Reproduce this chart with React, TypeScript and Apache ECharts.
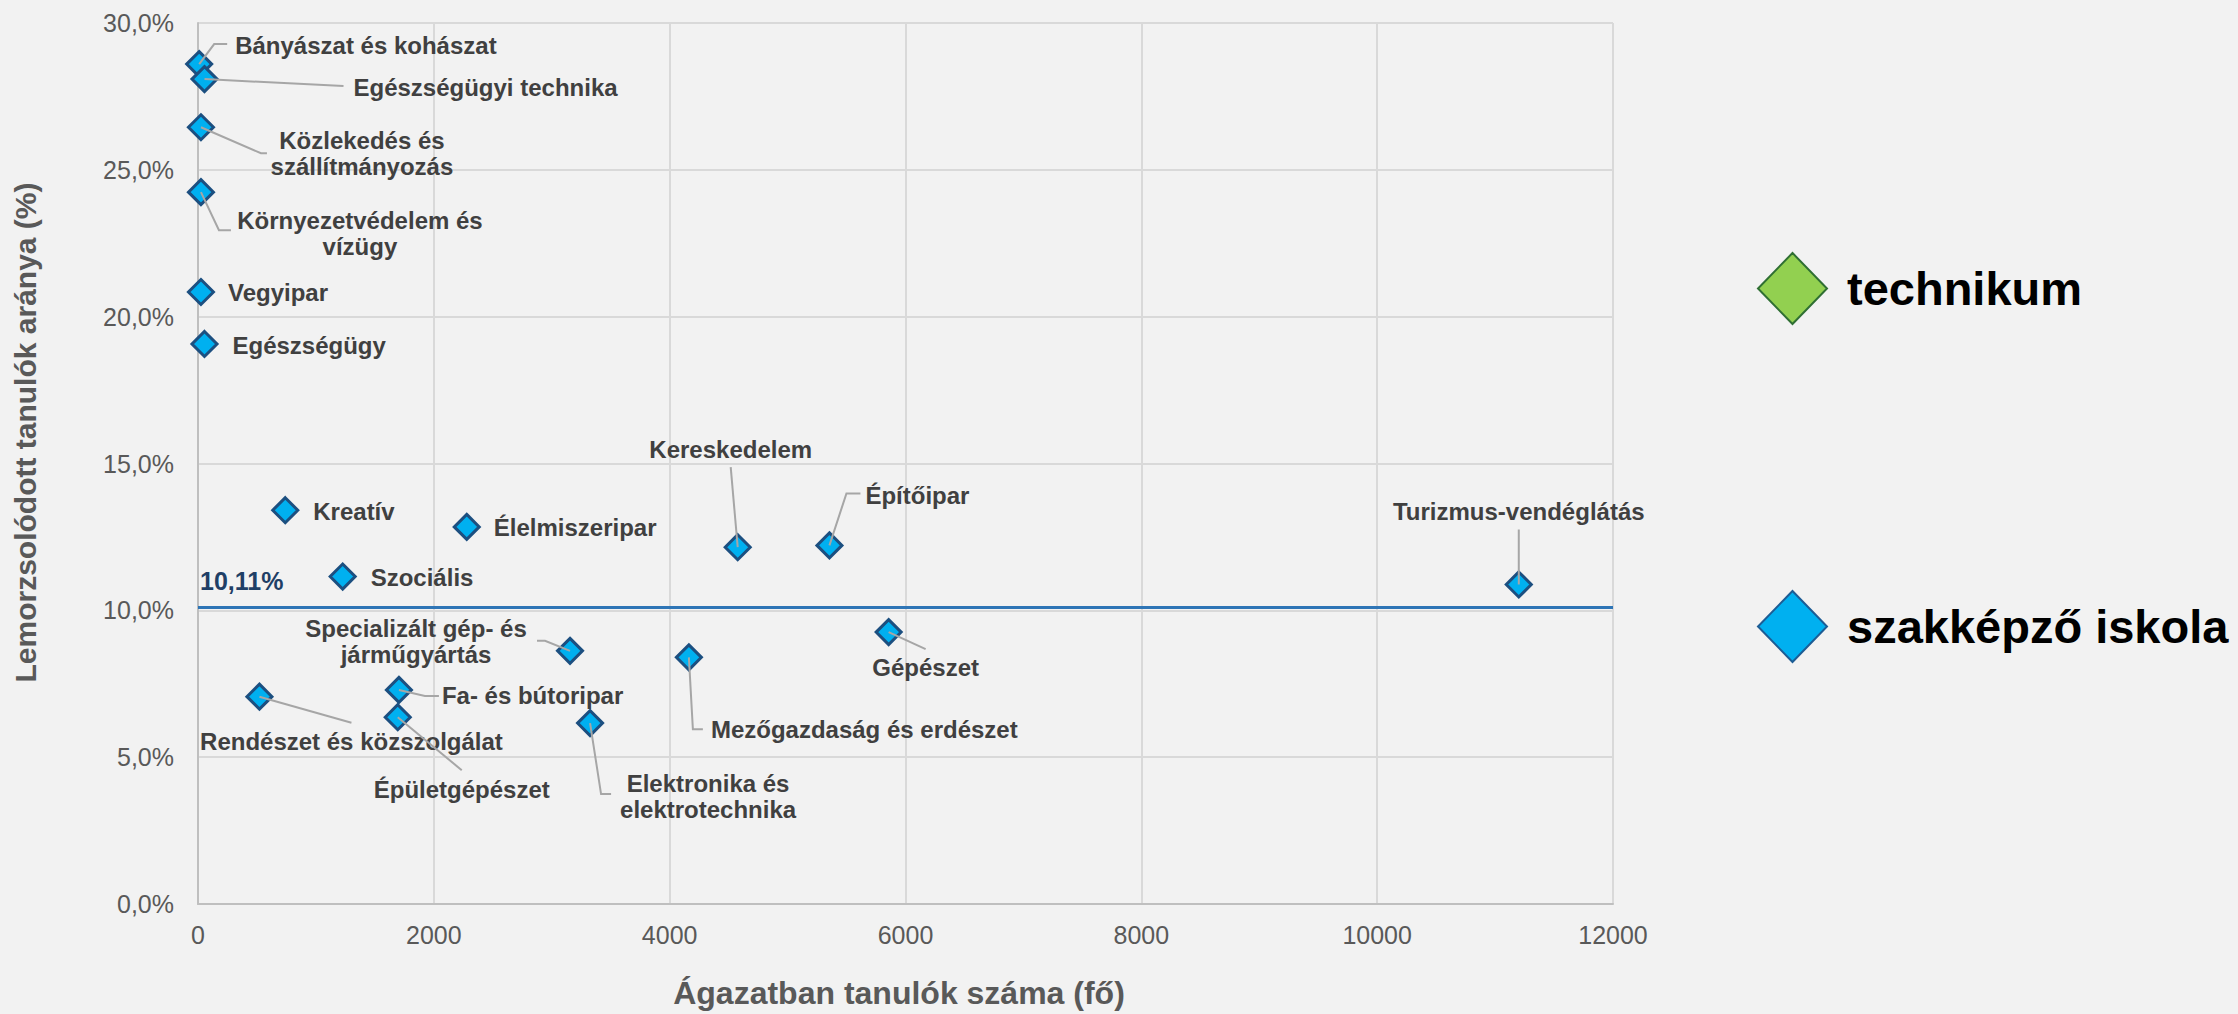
import React, { useEffect, useRef } from 'react';
import * as echarts from 'echarts';

// ---- Data ----
const CATEGORIES: string[] = [
  'Bányászat és kohászat',
  'Egészségügyi technika',
  'Közlekedés és szállítmányozás',
  'Környezetvédelem és vízügy',
  'Vegyipar',
  'Egészségügy',
  'Kreatív',
  'Élelmiszeripar',
  'Szociális',
  'Kereskedelem',
  'Építőipar',
  'Specializált gép- és járműgyártás',
  'Mezőgazdaság és erdészet',
  'Gépészet',
  'Rendészet és közszolgálat',
  'Fa- és bútoripar',
  'Épületgépészet',
  'Elektronika és elektrotechnika',
  'Turizmus-vendéglátás',
];
// Ágazatban tanulók száma (fő)
const STUDENTS: number[] = [10, 55, 25, 25, 25, 55, 740, 2279, 1227, 4577, 5355, 3155, 4163, 5857, 521, 1704, 1694, 3325, 11201];
// Lemorzsolódott tanulók aránya (%)
const DROPOUT_RATE: number[] = [28.6, 28.09, 26.45, 24.24, 20.84, 19.07, 13.41, 12.84, 11.15, 12.15, 12.21, 8.62, 8.4, 9.26, 7.06, 7.29, 6.36, 6.16, 10.88];
const AVERAGE_RATE = 10.11;
const SERIES_NAMES: string[] = ['technikum', 'szakképző iskola'];
const X_MIN = 0, X_MAX = 12000, X_INTERVAL = 2000;
const Y_MIN = 0, Y_MAX = 30, Y_INTERVAL = 5;

// ---- Label placement (offsets from the marker, in px) ----
type Lay = { text?: string; dx: number; dy: number; align: 'left' | 'center' | 'right'; leader?: number[][] };
const LABEL_LAYOUT: Record<string, Lay> = {
  'Bányászat és kohászat': { dx: 36, dy: -19, align: 'left', leader: [[15, -20], [28, -20]] },
  'Egészségügyi technika': { dx: 149, dy: 8, align: 'left', leader: [[139, 7]] },
  'Közlekedés és szállítmányozás': { text: 'Közlekedés és\nszállítmányozás', dx: 161, dy: 26, align: 'center', leader: [[60, 26], [66, 26]] },
  'Környezetvédelem és vízügy': { text: 'Környezetvédelem és\nvízügy', dx: 159, dy: 41, align: 'center', leader: [[18, 38], [30, 38]] },
  'Vegyipar': { dx: 27, dy: 1, align: 'left' },
  'Egészségügy': { dx: 28, dy: 2, align: 'left' },
  'Kreatív': { dx: 28, dy: 1, align: 'left' },
  'Élelmiszeripar': { dx: 27, dy: 1, align: 'left' },
  'Szociális': { dx: 28, dy: 1, align: 'left' },
  'Kereskedelem': { dx: -7, dy: -98, align: 'center', leader: [[-7, -80]] },
  'Építőipar': { dx: 36, dy: -50, align: 'left', leader: [[17, -52], [31, -52]] },
  'Specializált gép- és járműgyártás': { text: 'Specializált gép- és\njárműgyártás', dx: -154, dy: -9, align: 'center', leader: [[-25, -10], [-33, -10]] },
  'Mezőgazdaság és erdészet': { dx: 22, dy: 72, align: 'left', leader: [[4, 72], [14, 72]] },
  'Gépészet': { dx: 37, dy: 35, align: 'center', leader: [[37, 17]] },
  'Rendészet és közszolgálat': { dx: 92, dy: 45, align: 'center', leader: [[92, 26]] },
  'Fa- és bútoripar': { dx: 43, dy: 6, align: 'left', leader: [[26, 6], [40, 6]] },
  'Épületgépészet': { dx: 64, dy: 72, align: 'center', leader: [[64, 53]] },
  'Elektronika és elektrotechnika': { text: 'Elektronika és\nelektrotechnika', dx: 118, dy: 73, align: 'center', leader: [[11, 71], [21, 71]] },
  'Turizmus-vendéglátás': { dx: 0, dy: -73, align: 'center', leader: [[0, -55]] },
};

const FONT = '"Liberation Sans", Arial, Helvetica, sans-serif';
const fmtPct = (v: number, d: number) => v.toFixed(d).replace('.', ',') + '%';

export default function App() {
  const ref = useRef<HTMLDivElement>(null);
  useEffect(() => {
    if (!ref.current) return;
    const chart = echarts.init(ref.current, undefined, { renderer: 'svg' });
    const points = CATEGORIES.map((n, i) => ({ name: n, value: [STUDENTS[i], DROPOUT_RATE[i]] }));

    const option: any = {
      animation: false,
      backgroundColor: '#f2f2f2',
      textStyle: { fontFamily: FONT },
      grid: { left: 198, right: 625, top: 23, bottom: 107, containLabel: false },
      xAxis: {
        type: 'value', min: X_MIN, max: X_MAX, interval: X_INTERVAL,
        name: 'Ágazatban tanulók száma (fő)', nameLocation: 'middle', nameGap: 73,
        nameTextStyle: { fontSize: 32, fontWeight: 'bold', color: '#595959', padding: [0, 13, 0, 0] },
        axisLine: { show: true, onZero: false, lineStyle: { color: '#bfbfbf', width: 2 } },
        axisTick: { show: false },
        axisLabel: { color: '#595959', fontSize: 25, margin: 18, formatter: (v: number) => String(v) },
        splitLine: { show: true, lineStyle: { color: '#d9d9d9', width: 2 } },
      },
      yAxis: {
        type: 'value', min: Y_MIN, max: Y_MAX, interval: Y_INTERVAL,
        name: 'Lemorzsolódott tanulók aránya (%)', nameLocation: 'middle', nameGap: 158, nameRotate: 90,
        nameTextStyle: { fontSize: 30, fontWeight: 'bold', color: '#595959', padding: [0, 0, 0, 62] },
        axisLine: { show: true, lineStyle: { color: '#bfbfbf', width: 2 } },
        axisTick: { show: false },
        axisLabel: { color: '#595959', fontSize: 25, margin: 24, formatter: (v: number) => fmtPct(v, 1) },
        splitLine: { show: true, lineStyle: { color: '#d9d9d9', width: 2 } },
      },
      legend: {
        orient: 'vertical', left: 1757, top: 252, padding: 0,
        itemWidth: 69, itemHeight: 71, itemGap: 265, selectedMode: false, icon: 'diamond',
        textStyle: { fontSize: 47, fontWeight: 'bold', color: '#000000', padding: [0, 0, 0, 15] },
        data: [
          { name: SERIES_NAMES[0], itemStyle: { color: '#92d050', borderColor: '#2f6f33', borderWidth: 2, opacity: 1 } },
          { name: SERIES_NAMES[1], itemStyle: { color: '#00b0f0', borderColor: '#1d5c94', borderWidth: 2, opacity: 1 } },
        ],
      },
      series: [
        {
          name: SERIES_NAMES[0], type: 'scatter', data: [], symbol: 'diamond', symbolSize: 25,
          itemStyle: { color: '#92d050', borderColor: '#2f6f33', borderWidth: 2, opacity: 1 },
        },
        {
          name: SERIES_NAMES[1], type: 'scatter', data: points, symbol: 'diamond', symbolSize: 25, z: 3,
          itemStyle: { color: '#00b0f0', borderColor: '#1c4f80', borderWidth: 3, opacity: 1 },
          emphasis: { disabled: true },
          markLine: {
            silent: true, symbol: 'none', animation: false,
            lineStyle: { color: '#2e75b6', width: 3, type: 'solid' },
            label: {
              show: true, position: 'insideStartTop', distance: [2, 14],
              formatter: () => fmtPct(AVERAGE_RATE, 2),
              color: '#1f3f66', fontSize: 25, fontWeight: 'bold', fontFamily: FONT,
            },
            data: [{ yAxis: AVERAGE_RATE }],
          },
        },
        {
          name: 'címkék', type: 'custom', coordinateSystem: 'cartesian2d', silent: true, clip: false, z: 4,
          data: points.map((p) => p.value),
          encode: { x: 0, y: 1 },
          renderItem: (params: any, api: any) => {
            const i = params.dataIndex;
            const name = CATEGORIES[i];
            const lay = LABEL_LAYOUT[name];
            const p = api.coord([api.value(0), api.value(1)]);
            const children: any[] = [];
            if (lay.leader) {
              children.push({
                type: 'polyline',
                shape: { points: [[p[0], p[1]], ...lay.leader.map(([dx, dy]) => [p[0] + dx, p[1] + dy])] },
                style: { stroke: '#a6a6a6', lineWidth: 2, fill: 'none' },
              });
            }
            children.push({
              type: 'text',
              x: p[0] + lay.dx,
              y: p[1] + lay.dy,
              style: {
                text: lay.text ?? name,
                fill: '#404040',
                fontSize: 24,
                fontWeight: 'bold',
                fontFamily: FONT,
                align: lay.align,
                verticalAlign: 'middle',
                lineHeight: 26,
              },
            });
            return { type: 'group', children };
          },
        },
      ],
    };
    chart.setOption(option);
    return () => chart.dispose();
  }, []);
  return <div ref={ref} style={{ position: 'absolute', left: 0, top: 0, width: 2238, height: 1014 }} />;
}
